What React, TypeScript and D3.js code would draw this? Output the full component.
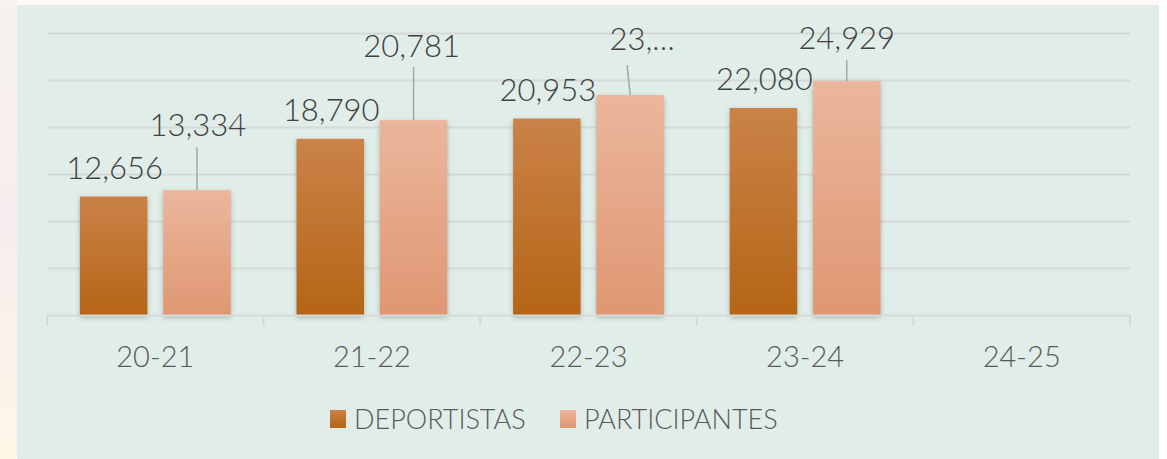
import React from 'react';
import * as d3 from 'd3';

// chart data
const categories = ['20-21', '21-22', '22-23', '23-24', '24-25'];
const seriesNames = ['DEPORTISTAS', 'PARTICIPANTES'];
const deportistas = [12656, 18790, 20953, 22080];
const participantes = [13334, 20781, 23450, 24929];
const participantesLabels = ['13,334', '20,781', '23,…', '24,929'];
const yTicks = [0, 5000, 10000, 15000, 20000, 25000, 30000];

// hand-placed label tweaks (the original labels were dragged up with leader lines)
const pLift = [54, 63, 45, 32];
const pDx = [1, -2, 12, 0];
const pLeadTop = [11, 10, 15, 11];
const pLeadDx = [0, 0, -3, 0];

const W = 1167;
const H = 459;
const panel = {x: 17, y: 5, w: 1142, h: 460};
const plot = {left: 47, right: 1130, top: 33.5, bottom: 315.5};

const FONT = 'Lato, "Open Sans", sans-serif';

export default function App() {
  const x0 = d3.scaleBand().domain(categories).range([plot.left, plot.right]);
  const x1 = d3
    .scaleBand()
    .domain(seriesNames)
    .range([0, x0.bandwidth()])
    .paddingInner(0.19)
    .paddingOuter(0.395);
  const y = d3.scaleLinear().domain([0, 30000]).range([plot.bottom, plot.top]);
  const fmt = d3.format(',');
  const bw = x1.bandwidth();

  const bounds = categories.map((c) => x0(c)!).concat([plot.right]);

  return (
    <svg width={W} height={H} style={{position: 'absolute', left: 0, top: 0}}>
      <defs>
        <linearGradient id="gD" x1="0" y1="0" x2="0" y2="1">
          <stop offset="0" stopColor="#ca8248" />
          <stop offset="1" stopColor="#b56515" />
        </linearGradient>
        <linearGradient id="gP" x1="0" y1="0" x2="0" y2="1">
          <stop offset="0" stopColor="#ebb69c" />
          <stop offset="1" stopColor="#df9772" />
        </linearGradient>
        <linearGradient id="gSide" x1="0" y1="0" x2="0" y2="1">
          <stop offset="0" stopColor="#f7f1ef" />
          <stop offset="0.5" stopColor="#f6eeee" />
          <stop offset="1" stopColor="#fff6e7" />
        </linearGradient>
        <filter id="shadow" x="-20%" y="-10%" width="140%" height="120%">
          <feDropShadow dx="0" dy="2" stdDeviation="2.5" floodColor="#5a6a66" floodOpacity="0.45" />
        </filter>
      </defs>

      <rect x={0} y={0} width={W} height={H} fill="#fdf9f5" />
      <rect x={0} y={0} width={panel.x} height={H} fill="url(#gSide)" />
      <rect x={panel.x + panel.w} y={0} width={W - panel.x - panel.w} height={H} fill="#ffffff" />
      <rect x={panel.x} y={panel.y} width={panel.w} height={panel.h} fill="#e1ede8" />

      {/* gridlines */}
      {yTicks.slice(1).map((t) => (
        <line key={t} x1={plot.left} x2={plot.right} y1={y(t)} y2={y(t)} stroke="#d6d9d7" strokeWidth={2} />
      ))}

      {/* bars */}
      {categories.map((c, i) => (
        <g key={c} transform={`translate(${x0(c)},0)`}>
          {deportistas[i] !== undefined && (
            <rect
              x={x1('DEPORTISTAS')}
              y={y(deportistas[i])}
              width={bw}
              height={y(0) - y(deportistas[i])}
              fill="url(#gD)"
              filter="url(#shadow)"
            />
          )}
          {participantes[i] !== undefined && (
            <rect
              x={x1('PARTICIPANTES')}
              y={y(participantes[i])}
              width={bw}
              height={y(0) - y(participantes[i])}
              fill="url(#gP)"
              filter="url(#shadow)"
            />
          )}
        </g>
      ))}

      {/* x axis */}
      <line x1={plot.left} x2={plot.right} y1={y(0)} y2={y(0)} stroke="#d6d9d7" strokeWidth={2} />
      {bounds.map((b, i) => (
        <line key={i} x1={b} x2={b} y1={y(0)} y2={y(0) + 10} stroke="#d6d9d7" strokeWidth={2} />
      ))}
      {categories.map((c) => (
        <text
          key={c}
          x={x0(c)! + x0.bandwidth() / 2}
          y={367}
          textAnchor="middle"
          fontFamily={FONT}
          fontWeight={300}
          fontSize={29}
          fill="#595959"
        >
          {c}
        </text>
      ))}

      {/* data labels */}
      {deportistas.map((v, i) => (
        <text
          key={'d' + i}
          x={x0(categories[i])! + x1('DEPORTISTAS')! + bw / 2 + 1}
          y={y(v) - 18}
          textAnchor="middle"
          fontFamily={FONT}
          fontWeight={300}
          fontSize={31}
          fill="#404040"
        >
          {fmt(v)}
        </text>
      ))}
      {participantes.map((v, i) => {
        const cx = x0(categories[i])! + x1('PARTICIPANTES')! + bw / 2;
        const base = y(v) - pLift[i];
        return (
          <g key={'p' + i}>
            <line
              x1={cx + pLeadDx[i]}
              y1={base + pLeadTop[i]}
              x2={cx}
              y2={y(v)}
              stroke="#a6a6a6"
              strokeWidth={1.5}
            />
            <text
              x={cx + pDx[i]}
              y={base}
              textAnchor="middle"
              fontFamily={FONT}
              fontWeight={300}
              fontSize={31}
              fill="#404040"
            >
              {participantesLabels[i]}
            </text>
          </g>
        );
      })}

      {/* legend */}
      {seriesNames.map((s, i) => {
        const lx = [330, 560][i];
        return (
          <g key={s} transform={`translate(${lx},410)`}>
            <rect width={16} height={18} fill={i === 0 ? 'url(#gD)' : 'url(#gP)'} />
            <text x={24} y={19} fontFamily={FONT} fontWeight={300} fontSize={27} fill="#595959">
              {s}
            </text>
          </g>
        );
      })}
    </svg>
  );
}
